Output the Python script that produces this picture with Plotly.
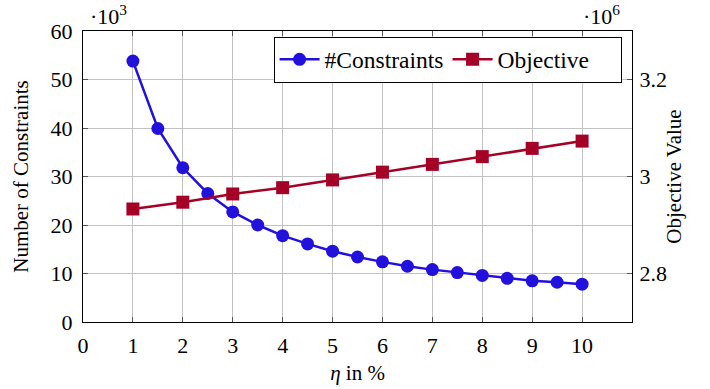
import plotly.graph_objects as go

eta_c = [1, 1.5, 2, 2.5, 3, 3.5, 4, 4.5, 5, 5.5, 6, 6.5, 7, 7.5, 8, 8.5, 9, 9.5, 10]
constraints = [53.8, 39.9, 31.8, 26.5, 22.7, 20.0, 17.8, 16.1, 14.6, 13.4, 12.4, 11.5,
               10.8, 10.2, 9.6, 9.0, 8.5, 8.2, 7.8]
eta_o = [1, 2, 3, 4, 5, 6, 7, 8, 9, 10]
objective = [2.933, 2.947, 2.964, 2.977, 2.993, 3.009, 3.025, 3.041, 3.058, 3.073]

x_ticks = [0, 1, 2, 3, 4, 5, 6, 7, 8, 9, 10]
y_ticks = [0, 10, 20, 30, 40, 50, 60]
y2_ticks = [2.8, 3.0, 3.2]
y2_labels = ["2.8", "3", "3.2"]

BLUE = "#2211dd"
RED = "#a50026"
FONT = "Liberation Serif"
FS = 21
TFS = 22

fig = go.Figure()
fig.add_trace(go.Scatter(x=eta_c, y=constraints, name="#Constraints", mode="lines+markers",
                         line=dict(color=BLUE, width=2.5),
                         marker=dict(symbol="circle", size=13, color=BLUE)))
fig.add_trace(go.Scatter(x=eta_o, y=objective, name="Objective", mode="lines+markers",
                         yaxis="y2",
                         line=dict(color=RED, width=2.5),
                         marker=dict(symbol="square", size=13, color=RED)))

axis_common = dict(showline=True, linecolor="black", linewidth=1, ticks="inside",
                   ticklen=5, tickcolor="#555", zeroline=False, automargin=False,
                   tickfont=dict(family=FONT, size=TFS, color="black"))

fig.update_layout(
    width=710, height=389,
    margin=dict(l=83, r=78, t=31, b=67),
    paper_bgcolor="white", plot_bgcolor="white",
    font=dict(family=FONT, size=FS, color="black"),
    xaxis=dict(range=[0, 11], tickvals=x_ticks, showgrid=True, gridcolor="#c2c2c2",
               gridwidth=1, mirror="ticks", ticklabelstandoff=4,
               title=dict(text="<i>η</i> in %", font=dict(family=FONT, size=FS), standoff=7),
               **axis_common),
    yaxis=dict(range=[0, 60], tickvals=y_ticks, showgrid=True, gridcolor="#c2c2c2",
               gridwidth=1, ticklabelstandoff=5,
               title=dict(text="Number of Constraints", font=dict(family=FONT, size=FS), standoff=16),
               **axis_common),
    yaxis2=dict(range=[2.7, 3.3], tickvals=y2_ticks, ticktext=y2_labels, overlaying="y",
                side="right", showgrid=False, ticklabelstandoff=2,
                title=dict(text="Objective Value", font=dict(family=FONT, size=FS), standoff=0),
                **axis_common),
    legend=dict(orientation="h", x=0.981, xanchor="right", y=0.981, yanchor="top",
                bgcolor="white", bordercolor="black", borderwidth=1,
                font=dict(family=FONT, size=23.5), itemwidth=40, tracegroupgap=0,
                entrywidth=118),
    showlegend=True,
)

fig.add_annotation(text="·10<sup>3</sup>", xref="paper", yref="paper", x=0.01, y=1.0,
                   xanchor="left", yanchor="bottom", showarrow=False, yshift=0,
                   font=dict(family=FONT, size=TFS))
fig.add_annotation(text="·10<sup>6</sup>", xref="paper", yref="paper", x=0.981, y=1.0,
                   xanchor="right", yanchor="bottom", showarrow=False, yshift=0,
                   font=dict(family=FONT, size=TFS))

fig.write_html("out.html", config={"displayModeBar": False},
               post_script="document.body.style.margin='0px';")
